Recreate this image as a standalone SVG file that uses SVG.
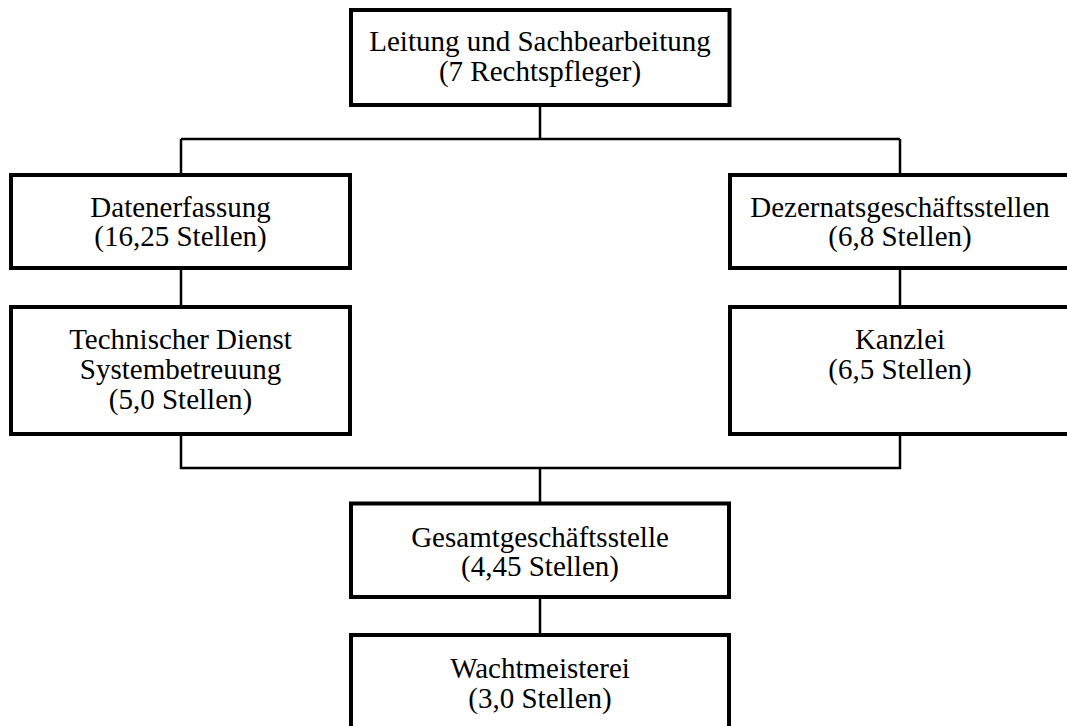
<svg xmlns="http://www.w3.org/2000/svg" width="1067" height="726" viewBox="0 0 1067 726">
<style>
.box{fill:#fff;stroke:#000;stroke-width:4}
.lbl{font-family:"Liberation Serif","Times New Roman",serif;font-size:29px;fill:#000;text-anchor:middle}
.con{fill:none;stroke:#000;stroke-width:2.5}
</style>
<rect width="1067" height="726" fill="#fff"/>
<g id="connectors">
<path class="con" d="M540 105V139M181 139H900M181 139V175M900 139V175"/>
<path class="con" d="M181 268V307M900 268V307"/>
<path class="con" d="M181 434V468H900V434M540 468V503"/>
<path class="con" d="M540 597V635"/>
</g>
<g id="leitung">
<rect class="box" x="351" y="10" width="378.5" height="95"/>
<text class="lbl" x="540" y="51">Leitung und Sachbearbeitung</text>
<text class="lbl" x="540" y="81">(7 Rechtspfleger)</text>
</g>
<g id="datenerfassung">
<rect class="box" x="11" y="175" width="339" height="93"/>
<text class="lbl" x="180.5" y="217">Datenerfassung</text>
<text class="lbl" x="180.5" y="246">(16,25 Stellen)</text>
</g>
<g id="technischer-dienst">
<rect class="box" x="11" y="307" width="339" height="127"/>
<text class="lbl" x="180.5" y="349">Technischer Dienst</text>
<text class="lbl" x="180.5" y="379">Systembetreuung</text>
<text class="lbl" x="180.5" y="409">(5,0 Stellen)</text>
</g>
<g id="dezernat">
<rect class="box" x="730" y="175" width="345" height="93"/>
<text class="lbl" x="900" y="217">Dezernatsgeschäftsstellen</text>
<text class="lbl" x="900" y="246">(6,8 Stellen)</text>
</g>
<g id="kanzlei">
<rect class="box" x="730" y="307" width="345" height="127"/>
<text class="lbl" x="900" y="349">Kanzlei</text>
<text class="lbl" x="900" y="379">(6,5 Stellen)</text>
</g>
<g id="gesamt">
<rect class="box" x="351" y="503.5" width="378" height="93.5"/>
<text class="lbl" x="540" y="547">Gesamtgeschäftsstelle</text>
<text class="lbl" x="540" y="576">(4,45 Stellen)</text>
</g>
<g id="wacht">
<rect class="box" x="351" y="635" width="378" height="100"/>
<text class="lbl" x="540" y="678">Wachtmeisterei</text>
<text class="lbl" x="540" y="708">(3,0 Stellen)</text>
</g>
</svg>
